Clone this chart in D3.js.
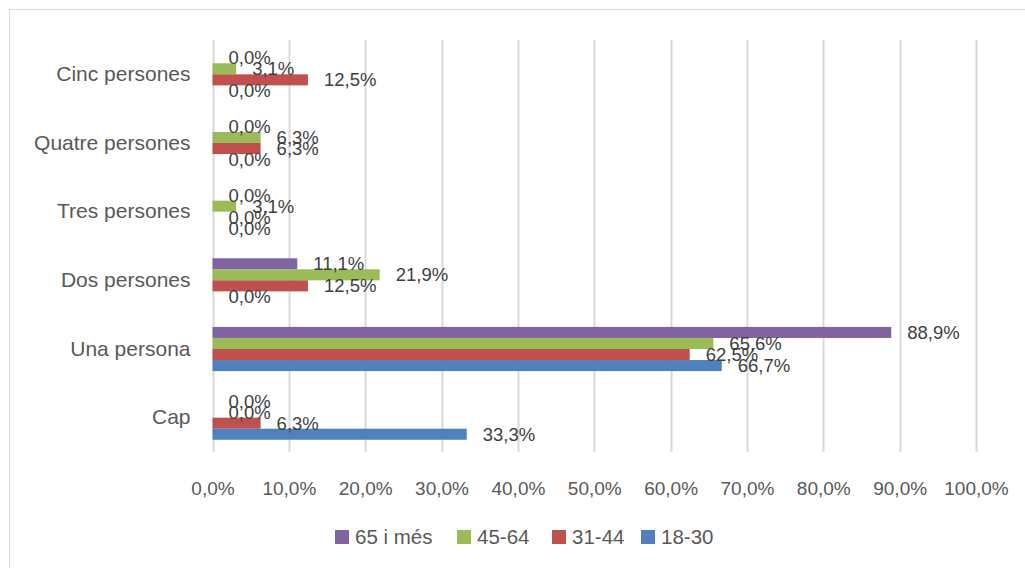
<!DOCTYPE html>
<html>
<head>
<meta charset="utf-8">
<script src="https://cdn.jsdelivr.net/npm/d3@7"></script>
<style>
  html, body { margin: 0; padding: 0; background: #ffffff; }
  svg { display: block; }
  text { font-family: "Liberation Sans", Arial, sans-serif; }
</style>
</head>
<body>
<svg id="chart" width="1025" height="568"></svg>
<script>
// Categories, top to bottom as drawn
const categories = ["Cinc persones", "Quatre persones", "Tres persones", "Dos persones", "Una persona", "Cap"];
// Series, top to bottom within each group (also legend order)
const seriesNames = ["65 i més", "45-64", "31-44", "18-30"];
const seriesColors = ["#8064A2", "#9BBB59", "#C0504D", "#4F81BD"];
// Values (%) per series, aligned with categories
const v65 = [0.0, 0.0, 0.0, 11.1, 88.9, 0.0];
const v45 = [3.1, 6.3, 3.1, 21.9, 65.6, 0.0];
const v31 = [12.5, 6.3, 0.0, 12.5, 62.5, 6.3];
const v18 = [0.0, 0.0, 0.0, 0.0, 66.7, 33.3];
const seriesValues = [v65, v45, v31, v18];
const xTicks = [0, 10, 20, 30, 40, 50, 60, 70, 80, 90, 100];

const fmt = v => v.toFixed(1).replace(".", ",") + "%";

const svg = d3.select("#chart");

// chart border (extends beyond the right/bottom of the picture)
svg.append("rect")
  .attr("x", 9.5).attr("y", 9.5)
  .attr("width", 1040).attr("height", 600)
  .attr("fill", "none").attr("stroke", "#d9d9d9").attr("stroke-width", 1);

const x = d3.scaleLinear().domain([0, 100]).range([212.5, 976]);
const y = d3.scaleBand().domain(categories).range([40, 452])
  .paddingInner(0.357).paddingOuter(0.1785);
const ySub = d3.scaleBand().domain(seriesNames).range([0, y.bandwidth()]);

// gridlines
svg.append("g")
  .selectAll("line").data(xTicks).join("line")
  .attr("x1", d => Math.round(x(d)) + 0.5).attr("x2", d => Math.round(x(d)) + 0.5)
  .attr("y1", 40).attr("y2", 452)
  .attr("stroke", "#d9d9d9").attr("stroke-width", 2);

// x axis labels
const xAxis = d3.axisBottom(x).tickValues(xTicks).tickFormat(d => fmt(d)).tickSize(0).tickPadding(0);
const gx = svg.append("g").attr("transform", "translate(0,481)").call(xAxis);
gx.select(".domain").remove();
gx.selectAll("text").attr("font-size", 19).attr("fill", "#595959")
  .attr("font-family", "Liberation Sans, Arial, sans-serif").attr("dy", "0.71em");

// y axis labels
const yAxis = d3.axisLeft(y).tickSize(0).tickPadding(22);
const gy = svg.append("g").attr("transform", `translate(${x(0)},0)`).call(yAxis);
gy.select(".domain").remove();
gy.selectAll("text").attr("font-size", 21).attr("fill", "#595959")
  .attr("font-family", "Liberation Sans, Arial, sans-serif");

// bars
const flat = [];
seriesNames.forEach((s, si) => {
  categories.forEach((c, ci) => {
    flat.push({ series: s, si, cat: c, value: seriesValues[si][ci] });
  });
});

const gBars = svg.append("g");
gBars.selectAll("rect").data(flat).join("rect")
  .attr("x", x(0))
  .attr("y", d => y(d.cat) + ySub(d.series))
  .attr("width", d => x(d.value) - x(0))
  .attr("height", ySub.bandwidth())
  .attr("fill", d => seriesColors[d.si]);

// data labels
svg.append("g").selectAll("text").data(flat).join("text")
  .attr("x", d => x(d.value) + 16)
  .attr("y", d => y(d.cat) + ySub(d.series) + ySub.bandwidth() / 2)
  .attr("dy", "0.35em")
  .attr("font-size", 18.5)
  .attr("fill", "#404040")
  .text(d => fmt(d.value));

// legend
const legendX = [335, 457, 552, 641];
const lg = svg.append("g").selectAll("g").data(seriesNames).join("g")
  .attr("transform", (d, i) => `translate(${legendX[i]},530)`);
lg.append("rect").attr("width", 14).attr("height", 14).attr("fill", (d, i) => seriesColors[i]);
lg.append("text").attr("x", 20).attr("y", 7).attr("dy", "0.35em")
  .attr("font-size", 20.5).attr("fill", "#595959").text(d => d);
</script>
</body>
</html>
